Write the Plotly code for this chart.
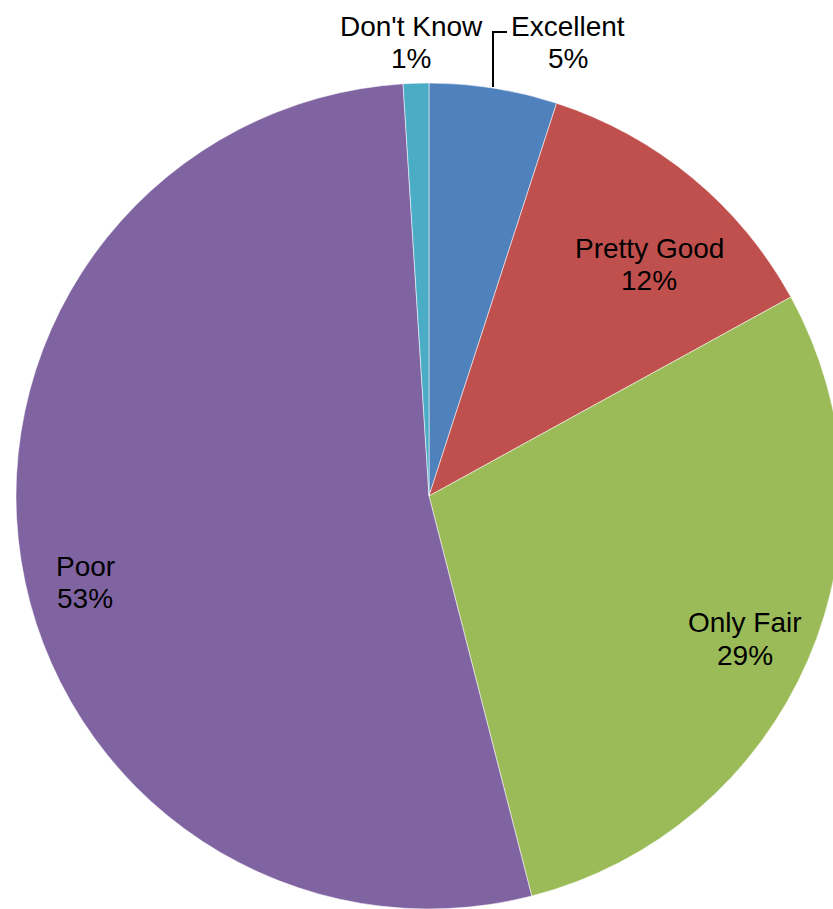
import plotly.graph_objects as go

labels = ["Excellent", "Pretty Good", "Only Fair", "Poor", "Don't Know"]
values = [5, 12, 29, 53, 1]
colors = ["#4F81BD", "#C0504D", "#9BBB59", "#8064A2", "#4BACC6"]
# label positions in pixels: (x centre, name-line y, percent-line y)
label_px = [(568, 25, 57.5), (649, 247, 279), (745, 621, 654), (85, 565, 597), (411, 25, 57.5)]

W, H = 860, 909
cx, r = 429, 414
top = 83

fig = go.Figure(go.Pie(
    labels=labels, values=values, sort=False, direction="clockwise", rotation=0,
    marker=dict(colors=colors, line=dict(color="rgba(255,255,255,0.7)", width=0.75)),
    textinfo="none", hoverinfo="label+percent", showlegend=False,
    domain=dict(x=[(cx - r) / W, (cx + r) / W], y=[0, 1 - top / H]),
))

font = dict(family="Liberation Sans, Arial, sans-serif", size=28, color="#000000")
for lab, v, (px, py1, py2) in zip(labels, values, label_px):
    for txt, py in ((lab, py1), (f"{v}%", py2)):
        fig.add_annotation(
            x=px / W, y=1 - (py + 1) / H, xref="paper", yref="paper",
            text=txt, showarrow=False, xanchor="center", yanchor="middle", font=font,
        )

# leader line for Excellent
fig.add_shape(type="path", xref="paper", yref="paper",
              path=f"M {493/W},{1-87/H} L {493/W},{1-32/H} L {507/W},{1-32/H}",
              line=dict(color="#000000", width=2))

fig.update_layout(width=W, height=H, autosize=False,
                  margin=dict(l=0, r=0, t=0, b=0),
                  paper_bgcolor="white", plot_bgcolor="white")

fig.write_html("out.html", config={"displayModeBar": False},
               post_script="document.body.style.margin='0';document.body.style.overflow='hidden';document.documentElement.style.overflow='hidden';")
